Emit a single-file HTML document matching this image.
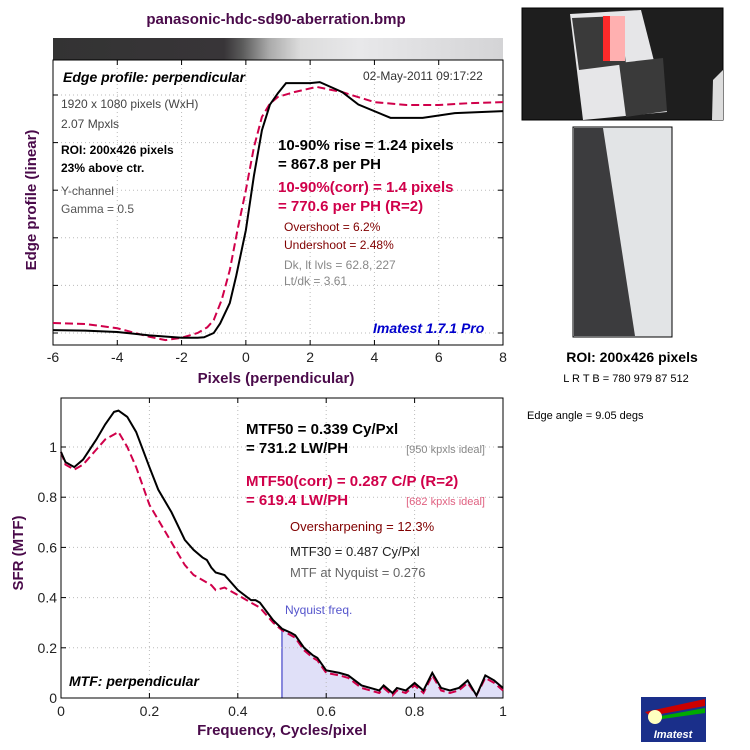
<!DOCTYPE html>
<html><head><meta charset="utf-8"><style>
html,body{margin:0;padding:0;background:#fff;width:750px;height:750px;overflow:hidden}
text{font-family:"Liberation Sans",sans-serif}
</style></head><body>
<svg id="s" width="750" height="750" viewBox="0 0 750 750" xmlns="http://www.w3.org/2000/svg">
<defs>
<linearGradient id="gbar" x1="0" x2="1">
<stop offset="0" stop-color="#333"/><stop offset="0.38" stop-color="#383538"/><stop offset="0.42" stop-color="#5a5a5a"/><stop offset="0.48" stop-color="#aaa"/><stop offset="0.55" stop-color="#dcdcdc"/><stop offset="0.68" stop-color="#e8e8ea"/><stop offset="1" stop-color="#d4d4d6"/>
</linearGradient>
</defs>
<text x="276" y="24" text-anchor="middle" font-size="15" font-weight="bold" fill="#4a0a4a">panasonic-hdc-sd90-aberration.bmp</text>
<rect x="53" y="38" width="450" height="22" fill="url(#gbar)"/>
<g id="top"></g>
<g id="bot"></g>
<g>
<rect x="522" y="8" width="201" height="112" fill="#1e1e1e" stroke="#000"/>
<polygon points="570,14 641,10 667,112 583,120" fill="#e6e6e8"/>
<polygon points="572,18 620,16 626,64 579,70" fill="#3a3a3a"/>
<polygon points="619,63 663,58 667,111 626,117" fill="#3a3a3a"/>
<rect x="603" y="16" width="12" height="45" fill="#ff2a2a"/>
<rect x="610" y="16" width="15" height="45" fill="#ffb0b0"/>
<polygon points="713,80 723,70 723,120 712,120" fill="#ddd"/>
</g>
<g>
<rect x="573" y="127" width="99" height="210" fill="#e2e4e6" stroke="#000"/>
<polygon points="574,128 603,128 635,336 574,336" fill="#3c3c3e"/>
</g>
<text x="632" y="362" text-anchor="middle" font-size="14" font-weight="bold">ROI: 200x426 pixels</text>
<text x="626" y="382" text-anchor="middle" font-size="11">L R  T B = 780 979  87 512</text>
<text x="527" y="419" font-size="11">Edge angle = 9.05 degs</text>
<g>
<rect x="641" y="697" width="65" height="45" fill="#1a2f8a"/>
<polygon points="645,712 705,699 705,706 650,716" fill="#c00"/>
<polygon points="650,718 705,708 705,713 655,720" fill="#0a0"/>
<circle cx="655" cy="717" r="7" fill="#ffffc0"/>
<text x="673" y="738" text-anchor="middle" font-size="11" font-weight="bold" font-style="italic" fill="#fff">Imatest</text>
</g>
</svg>
<script>
const edgeX=[-6,-5,-4,-3,-2,-1.5,-1.3,-1,-0.8,-0.5,-0.3,0,0.25,0.5,0.75,1,1.25,2,2.3,3,3.5,4.5,5.5,6.5,8];
const edgeBlack=[0.06,0.05,0.02,-0.05,-0.1,-0.1,-0.09,0,0.2,0.63,1.2,2.16,3.3,4.26,4.8,5.04,5.25,5.25,5.27,5.06,4.8,4.52,4.52,4.62,4.66];
const edgeRedX=[-6,-5,-4,-3,-2.5,-2,-1.5,-1.2,-1,-0.75,-0.5,-0.25,0,0.25,0.5,0.75,1,1.5,2.2,3,4,5,6,7,8];
const edgeRed=[0.21,0.19,0.1,-0.08,-0.15,-0.1,0,0.12,0.27,0.7,1.32,2.2,3.0,3.9,4.54,4.82,4.96,5.06,5.17,5.06,4.85,4.79,4.79,4.83,4.85];
const edgeTicks=["-6","-4","-2","0","2","4","6","8"];
const mtfX=[0,0.01,0.03,0.05,0.08,0.1,0.12,0.13,0.15,0.17,0.2,0.22,0.25,0.28,0.3,0.32,0.33,0.34,0.35,0.37,0.4,0.43,0.44,0.45,0.48,0.5,0.52,0.53,0.55,0.57,0.58,0.6,0.63,0.65,0.68,0.7,0.72,0.73,0.75,0.76,0.78,0.8,0.82,0.84,0.86,0.88,0.9,0.92,0.94,0.96,0.98,1];
const mtfBlack=[0.98,0.94,0.92,0.95,1.03,1.09,1.14,1.145,1.12,1.06,0.92,0.83,0.74,0.63,0.59,0.56,0.55,0.52,0.5,0.49,0.43,0.39,0.39,0.38,0.31,0.276,0.26,0.25,0.2,0.17,0.16,0.11,0.1,0.09,0.05,0.04,0.03,0.05,0.02,0.04,0.03,0.06,0.03,0.1,0.04,0.03,0.04,0.07,0.01,0.09,0.07,0.04];
const mtfRed=[0.98,0.93,0.91,0.93,0.99,1.03,1.05,1.06,1.0,0.92,0.77,0.71,0.62,0.53,0.49,0.47,0.46,0.45,0.43,0.44,0.41,0.38,0.37,0.36,0.3,0.27,0.25,0.24,0.19,0.16,0.15,0.1,0.09,0.08,0.04,0.03,0.02,0.04,0.01,0.03,0.02,0.05,0.02,0.09,0.03,0.02,0.03,0.06,0.01,0.08,0.06,0.03];
const mtfTicks=["0","0.2","0.4","0.6","0.8","1"];
const mtfYTicks=["0","0.2","0.4","0.6","0.8","1"];
const NS="http://www.w3.org/2000/svg";
function mk(p,tag,at,txt){const e=document.createElementNS(NS,tag);for(const k in at)e.setAttribute(k,at[k]);if(txt!=null)e.textContent=txt;p.appendChild(e);return e;}
// top chart
const T=document.getElementById('top');
const tx=v=>53+(v+6)*450/14, ty=v=>333-v*47.6;
for(let i=0;i<=5;i++){const g=mk(T,'line',{x1:53,x2:503,y1:ty(i),y2:ty(i),stroke:'#bbb','stroke-dasharray':'1 3'});


mk(T,'line',{x1:53,x2:58,y1:ty(i),y2:ty(i),stroke:'#000'});mk(T,'line',{x1:498,x2:503,y1:ty(i),y2:ty(i),stroke:'#000'});}
edgeTicks.forEach(t=>{const v=+t,x=tx(v);
mk(T,'line',{x1:x,x2:x,y1:60,y2:345,stroke:'#bbb','stroke-dasharray':'1 3'});
mk(T,'line',{x1:x,x2:x,y1:340,y2:345,stroke:'#000'});mk(T,'line',{x1:x,x2:x,y1:60,y2:65,stroke:'#000'});
const l=mk(T,'text',{x:x,y:362,'text-anchor':'middle','font-size':14,fill:'#222'},t);

});
mk(T,'rect',{x:53,y:60,width:450,height:285,fill:'none',stroke:'#000'});
let pr=mk(T,'polyline',{points:edgeRedX.map((x,i)=>tx(x)+','+ty(edgeRed[i])).join(' '),fill:'none',stroke:'#d0004a','stroke-width':2,'stroke-dasharray':'8 4'});


let pb=mk(T,'polyline',{points:edgeX.map((x,i)=>tx(x)+','+ty(edgeBlack[i])).join(' '),fill:'none',stroke:'#000','stroke-width':2});


const tt=[[63,82,'Edge profile: perpendicular',14,'#000','bold','italic'],[363,80,'02-May-2011 09:17:22',12,'#333'],[61,108,'1920 x 1080 pixels (WxH)',12,'#444'],[61,128,'2.07 Mpxls',12,'#444'],[61,154,'ROI: 200x426 pixels',12,'#000','bold'],[61,172,'23% above ctr.',12,'#000','bold'],[61,195,'Y-channel',12,'#555'],[61,213,'Gamma = 0.5',12,'#555'],
[278,150,'10-90% rise = 1.24 pixels',15,'#000','bold'],[278,169,'= 867.8 per PH',15,'#000','bold'],[278,192,'10-90%(corr) = 1.4 pixels',15,'#d0004a','bold'],[278,211,'= 770.6 per PH  (R=2)',15,'#d0004a','bold'],[284,231,'Overshoot = 6.2%',12,'#800000'],[284,249,'Undershoot = 2.48%',12,'#800000'],[284,269,'Dk, lt lvls = 62.8, 227',12,'#888'],[284,285,'Lt/dk = 3.61',12,'#888'],[373,333,'Imatest 1.7.1 Pro',14,'#0000cc','bold','italic']];
tt.forEach(a=>{const e=mk(T,'text',{x:a[0],y:a[1],'font-size':a[3],fill:a[4],'font-weight':a[5]||'normal','font-style':a[6]||'normal'},a[2]);

});
let xl=mk(T,'text',{x:276,y:383,'text-anchor':'middle','font-size':15,'font-weight':'bold',fill:'#4a0a4a'},'Pixels (perpendicular)');

let yl=mk(T,'text',{x:0,y:0,'text-anchor':'middle','font-size':15,'font-weight':'bold',fill:'#4a0a4a',transform:'translate(36,200) rotate(-90)'},'Edge profile (linear)');

// bottom chart
const B=document.getElementById('bot');
const bx=v=>61+v*442, by=v=>698-v*251;
const ny=mtfBlack[mtfX.indexOf(0.5)];
let area=[bx(0.5)+','+by(0)];mtfX.forEach((x,i)=>{if(x>=0.5)area.push(bx(x)+','+by(mtfBlack[i]));});area.push(bx(1)+','+by(0));
let ar=mk(B,'polygon',{points:area.join(' '),fill:'#e0e0f8'});

mk(B,'line',{x1:bx(0.5),x2:bx(0.5),y1:by(0),y2:by(ny),stroke:'#8888dd','stroke-width':2});
mtfYTicks.forEach(t=>{const y=by(+t);
mk(B,'line',{x1:61,x2:503,y1:y,y2:y,stroke:'#bbb','stroke-dasharray':'1 3'});
mk(B,'line',{x1:61,x2:66,y1:y,y2:y,stroke:'#000'});mk(B,'line',{x1:498,x2:503,y1:y,y2:y,stroke:'#000'});
const l=mk(B,'text',{x:57,y:y+5,'text-anchor':'end','font-size':14,fill:'#222'},t);
});
mtfTicks.forEach(t=>{const x=bx(+t);
mk(B,'line',{x1:x,x2:x,y1:398,y2:698,stroke:'#bbb','stroke-dasharray':'1 3'});
mk(B,'line',{x1:x,x2:x,y1:693,y2:698,stroke:'#000'});mk(B,'line',{x1:x,x2:x,y1:398,y2:403,stroke:'#000'});
const l=mk(B,'text',{x:x,y:716,'text-anchor':'middle','font-size':14,fill:'#222'},t);
});
mk(B,'rect',{x:61,y:398,width:442,height:300,fill:'none',stroke:'#000'});
let mr=mk(B,'polyline',{points:mtfX.map((x,i)=>bx(x)+','+by(mtfRed[i])).join(' '),fill:'none',stroke:'#d0004a','stroke-width':2,'stroke-dasharray':'8 4'});

let mb=mk(B,'polyline',{points:mtfX.map((x,i)=>bx(x)+','+by(mtfBlack[i])).join(' '),fill:'none',stroke:'#000','stroke-width':2});

const bt=[[246,434,'MTF50 = 0.339 Cy/Pxl',15,'#000','bold'],[246,453,'= 731.2 LW/PH',15,'#000','bold'],[246,486,'MTF50(corr) = 0.287 C/P  (R=2)',15,'#d0004a','bold'],[246,505,'= 619.4 LW/PH',15,'#d0004a','bold'],[290,531,'Oversharpening = 12.3%',13,'#800000'],[290,556,'MTF30 = 0.487 Cy/Pxl',13,'#222'],[290,577,'MTF at Nyquist = 0.276',13,'#666'],[285,614,'Nyquist freq.',12,'#5555cc'],[69,686,'MTF: perpendicular',14,'#000','bold','italic']];
bt.forEach(a=>{const e=mk(B,'text',{x:a[0],y:a[1],'font-size':a[3],fill:a[4],'font-weight':a[5]||'normal','font-style':a[6]||'normal'},a[2]);
});
[[485,453,'[950 kpxls ideal]','#888'],[485,505,'[682 kpxls ideal]','#e06080']].forEach(a=>{const e=mk(B,'text',{x:a[0],y:a[1],'font-size':11,fill:a[3],'text-anchor':'end'},a[2]);
});
let bxl=mk(B,'text',{x:282,y:735,'text-anchor':'middle','font-size':15,'font-weight':'bold',fill:'#4a0a4a'},'Frequency, Cycles/pixel');

let byl=mk(B,'text',{x:0,y:0,'text-anchor':'middle','font-size':15,'font-weight':'bold',fill:'#4a0a4a',transform:'translate(23,553) rotate(-90)'},'SFR (MTF)');

</script>
</body></html>
